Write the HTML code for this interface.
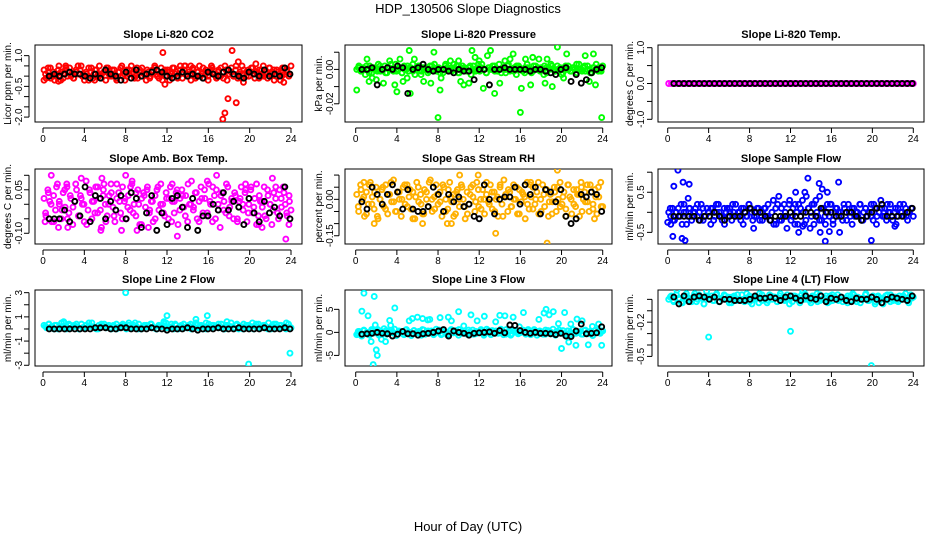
<!DOCTYPE html>
<html><head><meta charset="utf-8"><style>
html,body{margin:0;padding:0;background:#fff;}
svg{display:block;font-family:"Liberation Sans",Arial,sans-serif;}
</style></head><body>
<svg id="chart" width="936" height="540" viewBox="0 0 936 540">
<text x="468" y="13" text-anchor="middle" font-size="13">HDP_130506  Slope Diagnostics</text>
<text x="468" y="531" text-anchor="middle" font-size="13">Hour of Day (UTC)</text>
</svg>
<script>
// ---- data (values in scaled integer units; see each panel's unit) ----
const xTicks = [0,4,8,12,16,20,24];
const titles = ["Slope Li-820 CO2","Slope Li-820 Pressure","Slope Li-820 Temp.","Slope Amb. Box Temp.","Slope Gas Stream RH","Slope Sample Flow","Slope Line 2 Flow","Slope Line 3 Flow","Slope Line 4 (LT) Flow"];
const yTitles = ["Licor ppm per min.","kPa per min.","degrees C per min.","degrees C per min.","percent per min.","ml/min per min.","ml/min per min.","ml/min per min.","ml/min per min."];
const units = [0.1,0.001,1,0.01,0.01,0.1,0.1,0.1,0.01];
const yTickVals = [[1,0.5,0,-0.5,-1,-1.5,-2],[0.01,0,-0.01,-0.02],[1,0.5,0,-0.5,-1],[0.1,0.05,0,-0.05,-0.1],[0.1,0.05,0,-0.05,-0.1,-0.15],[1,0.5,0,-0.5],[3,2,1,0,-1,-2,-3],[5,0,-5],[0,-0.1,-0.2,-0.3,-0.4,-0.5]];
const yTickLabels = [["1.0","","","-0.5","","","-2.0"],["","0.00","","-0.02"],["1.0","","0.0","","-1.0"],["","0.05","","","-0.10"],["","","0.00","","","-0.15"],["","0.5","","-0.5"],["3","","1","","-1","","-3"],["5","0","-5"],["","","-0.2","","","-0.5"]];
const yLims = [[1.52,-2.24],[0.0142,-0.0306],[1.075,-1.075],[0.1217,-0.137],[0.125,-0.184],[1.08,-0.79],[3.22,-3.06],[9.2,-7.3],[0.082,-0.584]];
const band0 = "3 -1 2 4 0 -2 1 5 2 -1 3 0 4 1 -1 2 5 3 0 -2 1 4 2 -1 3 0 5 1 2 -2 4 0 3 1 -1 2 4 0 -2 3 1 5 2 0 -1 3 4 1 -2 2 0 3 5 1 -1 4 2 0 3 -2 1 4 2 0 5 -1 3 1 2 -2 4 0 2 5 1 -1 3 0 2 4 1 -1 3 0 2 5 -2 1 4 0 3 -1 2 5 1 0 3 2 4 -1 1 3 0 5 2 -1 4 1 3 0 2 -2 4 1 3 0 5";
const band1 = "0 2 -1 1 -3 0 2 -2 1 0 3 -1 0 2 -2 1 0 -1 3 0 1 -2 2 0 -1 1 3 -3 0 2 -1 0 1 -2 2 0 3 -1 1 0 -2 2 1 0 -1 3 0 -2 1 2 0 -1 1 -3 2 0 1 -1 3 0 -2 1 0 2 -1 0 3 -2 1 0 2 -1 0 1 -3 2 0 -1 1 3 0 -2 2 0 1 -1 0 2 -2 1 3 0 -1 2 0 -3 1 0 2 -1 1 0 -2 3 0 1 -1 2 0 -2 1 3 -1 0 2";
const band2 = "0 0 0 0 0 0 0 0 0 0 0 0 0 0 0 0 0 0 0 0 0 0 0 0 0 0 0 0 0 0 0 0 0 0 0 0 0 0 0 0 0 0 0 0 0 0 0 0 0 0 0 0 0 0 0 0 0 0 0 0 0 0 0 0 0 0 0 0 0 0 0 0 0 0 0 0 0 0 0 0 0 0 0 0 0 0 0 0 0 0";
const band3 = "2 -4 5 1 -6 3 -2 7 0 -5 4 -1 6 -3 2 -7 1 5 -4 3 0 -6 8 -2 4 -5 1 6 -3 2 -8 5 0 -4 3 7 -1 -6 2 4 -3 6 1 -5 3 -2 8 0 -4 5 -7 2 4 -1 6 -3 1 -6 3 5 -2 7 0 -4 2 -5 6 1 -3 4 -7 2 5 -1 3 -6 0 8 -2 4 -5 1 6 -3 2 -4 7 0 -6 3 5 -2 -8 4 1 -3 6 -1 2 -5 3 -5 1 6 -2 4 -6 0 5 -3 2 7 -4 1 -1 6 -5 3 0 -7 4 2 -3 5 -1 6 0 -4 3 -2";
const band4 = "2 -5 6 0 -7 3 -2 7 1 -4 5 -8 0 4 -3 6 -6 2 -1 8 -5 3 0 -7 5 -2 6 1 -4 3 -8 7 -1 2 -6 4 0 -3 8 -5 1 6 -2 3 -7 5 0 -4 7 -1 2 -6 4 -3 6 0 -8 3 -2 5 1 -5 7 -3 0 4 -6 2 -1 6 -4 3 0 -7 5 -2 8 1 -5 3 -3 6 0 -6 4 -1 2 -8 7 -4 1 5 -2 3 -6 0 6 -3 4 -7 2 -1 5 -5 0 7 -2 3 -4 6 1 -6 4 -3 2 -7 5 0 -1 6 -5 3 -2 4 -6 1 7 -3";
const band5 = "0 -1 1 -2 0 1 -1 -3 2 0 -1 1 -2 0 1 -1 0 2 -2 -1 1 0 -3 1 -1 0 2 -1 -2 1 0 -1 1 -2 0 2 -1 0 1 -3 0 -1 2 1 -2 0 -1 1 0 -2 1 -1 2 -2 0 -3 1 2 -2 1 -1 0 -1 2 -2 1 -3 0 2 -1 3 -3 4 1 -4 2 -3 3 -1 4 -2 1 -3 2 -1 2 -2 0 1 -1 0 -2 1 0 2 -1 -3 1 0 -1 2 -2 0 1 -1 0 2 -2 1 -1 0 3 -1 1 -2 0 2 -1 0 -3 1 2 0 -1 1 -2 0 1 -1";
const band6 = "3 1 4 2 0 3 1 5 2 0 4 1 3 2 0 4 1 3 5 2 1 0 3 4 2 1 3 0 2 4 1 3 2 0 5 1 3 2 4 0 1 3 2 4 1 0 3 2 5 1 2 4 0 3 1 2 4 1 3 0 2 5 1 3 2 0 4 1 3 2 1 4 0 3 2 5 1 3 0 2 4 1 3 2 0 4 1 2 3 1 5 0 2 4 1 3 2 0 4 1";
const band7 = "-5 2 -8 4 0 -3 6 -1 3 -6 1 8 -4 0 5 -2 -7 3 1 -5 6 0 -3 4 -1 2 -6 5 0 -2 3 -4 7 1 -5 2 0 -3 6 -1 4 -6 1 3 -2 5 0 -4 2 -1 6 -3 0 4 -5 1 3 -2 7 0 -4 2 -6 5 1 -3 0 4 -2 6 -5 1 3 -1 0 -4 5 2 -3 7 -6 1 0 4 -2 3 -5 6 -1 0 2 -4 5 -3 1 -7 4 0 -2 3";
const band8 = "0 3 -2 4 1 -3 2 5 -1 0 3 -2 4 1 -4 2 0 3 -1 5 -2 1 4 0 -3 2 3 -1 0 4 -2 1 3 -4 0 2 5 -1 1 -3 4 0 2 -2 3 1 -1 4 0 -2 3 2 -3 1 5 0 -1 3 2 -2 4 0 1 -3 3 -1 2 4 0 -2 1 3 -1 5 0 2 -3 1 4 -1 0 3 -2 2 1 -4 3 0 4 -1 2 -2 1 3 0 -1 4 2";
const bands = [band0,band1,band2,band3,band4,band5,band6,band7,band8];
// second dense layer of readings per panel
const bandB0 = "1 4 -1 2 0 3 -2 1 4 2 0 -1 3 1 5 0 2 -2 4 1 3 0 -1 2 4 1 0 3 -2 2 5 1 0 3 1 -1 4 2 0 1 3 -1 2 4 0 1 -2 3 2 0 4 1 -1 3 2 5 0 1 3 -1 2 0 4 1 -2 3 1 0 2 4 -1 3 1 2 0 5 1 -1 3 2 0 4 1 2 -1 3 0 1 4 2 -2 3 1 0 4 2 1";
const bandB1 = "1 -1 0 2 -2 1 0 -1 2 0 -2 1 3 0 -1 1 -2 0 2 1 -1 0 2 -3 1 0 -1 2 0 1 -2 0 3 -1 1 0 2 -2 0 1 -1 2 0 -1 3 1 0 -2 1 0 2 -1 0 1 -2 3 0 -1 2 1 0 -2 1 0 -1 2 0 1 -3 1 0 2 -1 0 1 -2 2 0 -1 1 3 0 -1 2 0 -2 1 0 1 -1";
const bandB2 = "";
const bandB3 = "-3 4 0 -6 6 1 -2 5 -5 3 -1 7 -4 2 0 -7 5 1 -3 6 -2 3 -6 0 4 -4 7 1 -5 2 -1 6 -3 4 0 -7 3 5 -2 1 -5 6 0 -3 4 2 -6 1 5 -2 3 -4 7 0 -1 4 -6 2 5 -3 1 6 -5 0 3 -2 7 -4 1 4 -6 2 0 5 -3 6 -1 -7 3 1 -4 5 0 -2 6 -5 2 4 -3 1";
const bandB4 = "-3 4 1 -6 6 -2 3 -7 0 5 -4 2 7 -1 -5 3 0 6 -3 4 -8 1 5 -2 -6 3 7 0 -4 2 -1 6 -5 4 1 -7 3 0 5 -3 -6 2 6 -1 4 -4 0 7 -2 3 -5 1 6 -7 2 4 -3 0 5 -6 3 1 -2 6 -4 0 7 -5 2 4 -1 -6 3 5 -3 1 -7 6 0 -2 4 2 -5 3 -1 6 -4 1 5 -3";
const bandB5 = "1 -2 0 -1 2 0 -3 1 -1 0 2 -2 1 -1 0 1 -2 2 0 -1 -3 1 0 2 -1 0 -2 1 -1 2 0 -1 1 -2 0 1 -1 -2 3 -3 4 -2 2 -4 3 -1 2 -3 1 0 -2 1 -1 2 0 -2 1 -1 0 2 -3 1 0 -1 2 -2 0 1 -1 0 2 -2 1 0 -1 2 -3 0 1 -1 2 0 -2 1 -1 0 2 -1 0 1";
const bandB6 = "2 4 1 3 0 2 5 1 3 2 4 0 1 3 2 5 1 0 3 4 2 1 3 0 2 4 1 3 2 5 0 1 3 2 4 1 0 2 3 5 1 2 4 0 3 1 2 4 1 3 2 0 5 1 3 2 4 1 0 3 2 1 4 2 0 3 1 5 2 4 1 3 0 2 4 1 3 2 5 1";
const bandB7 = "2 -3 5 0 -6 3 -1 6 -4 1 4 -2 0 7 -5 2 -3 5 1 -7 4 0 -2 6 -4 3 1 -5 0 5 -3 2 -6 4 -1 0 6 -2 3 -4 1 5 -3 0 2 -6 7 -1 4 -2 0 3 -5 6 1 -3 4 -1 0 5 -4 2 -2 6 -6 3 1 -4 4 0 -3 2 5 -1 -5 3 0 6 -2 1 -4 4 -1 2 -6 5 0 3";
const bandB8 = "2 -1 4 0 -3 3 1 -2 5 0 2 -4 3 1 -1 4 -2 0 3 2 -3 1 4 -1 0 5 -2 2 1 -3 4 0 -1 3 2 -2 5 1 0 -4 3 2 -1 4 0 1 -3 2 5 -1 0 3 -2 4 1 -1 2 0 -3 3 4 -2 1 0 5 -1 2 -4 3 1 0 4 -2 2 -1 3 0 5 -3 1";
const bandsB = [bandB0,bandB1,bandB2,bandB3,bandB4,bandB5,bandB6,bandB7,bandB8];
// outliers: [hour, value in panel units]
const out0 = [[11.6,11.5],[11.8,-4],[18.3,12.5],[17.4,-21],[17.6,-18],[17.9,-11],[18.7,-13],[18.9,7],[20.6,6],[13.7,5],[2.2,5],[3.4,5],[0.1,-2],[1.5,-2.5],[5.0,-2],[19.4,-3],[23.3,-3],[14.3,5],[16.3,5]];
const out1 = [[0.1,-12],[1.1,6],[1.6,-5],[1.3,-7],[2.0,-6],[2.7,-8],[3.3,5],[3.8,-9],[4.0,-13],[4.3,6],[4.6,-7],[5.0,-5],[5.2,11],[5.3,-14],[5.7,6],[6.6,-7],[7.3,-8],[7.6,10],[8.0,-28],[8.2,-12],[8.3,-5],[9.2,5],[10.0,5],[10.2,-7],[10.5,-9],[11.0,-8],[11.3,11],[11.6,7],[12.0,5],[12.4,-11],[12.8,8],[13.1,11],[13.5,-14],[14.0,-8],[14.5,5],[15.3,9],[15.0,6],[16.0,-25],[16.1,-11],[16.5,6],[17.0,-9],[17.2,7],[17.8,6],[18.4,-8],[18.6,6],[19.1,-10],[19.6,13],[20.2,-5],[20.5,9],[22.3,8],[22.7,-7],[23.1,9],[23.3,-9],[23.9,-28]];
const out2 = [];
const out3 = [[0.8,10],[3.7,9],[5.7,9],[5.9,7],[8.0,10],[8.6,7],[16.8,10],[22.2,9],[2.3,7],[0.2,-6],[1.5,-8],[2.4,-8],[5.6,-9],[7.6,-9],[9.1,-9],[13.0,-11],[23.5,-12],[10.2,-8],[20.9,-7],[21.2,-8],[23.8,-7],[15.9,8],[19.6,7],[12.5,7]];
const out4 = [[18.6,-18],[13.6,-14],[19.6,12],[10.1,10],[11.9,10],[1.8,-10],[6.5,-10],[8.9,-10],[9.3,-10],[0.8,7],[17.0,7],[21.9,7],[23.2,-8]];
const out5 = [[1.0,10.5],[0.6,6.5],[1.5,7.5],[2.1,7],[0.5,-6],[1.4,-6.5],[1.7,-7],[13.7,8.5],[14.8,7.2],[15.1,5.8],[16.7,7.5],[15.4,-7.2],[14.9,-5],[15.8,-4.8],[16.8,-5],[19.9,-7],[12.8,-5],[13.2,-3.5],[12.5,5],[15.6,5],[2.0,3.5],[8.4,-4],[22.2,-3.5],[0.0,-2.5],[0.3,-3],[13.4,5]];
const out6 = [[8.0,30],[12.0,11],[15.9,11],[19.9,-29],[23.9,-20],[14.8,8],[2.0,6],[17.8,6],[11.7,6]];
const out7 = [[0.2,-2],[0.6,46],[0.8,85],[1.2,36],[1.5,-20],[1.8,78],[1.9,16],[2.0,-38],[2.1,-50],[1.7,-70],[2.5,-15],[2.9,-20],[3.3,26],[3.4,15],[3.8,53],[5.2,25],[5.5,30],[6.0,33],[6.5,30],[7.0,27],[7.2,28],[8.2,32],[9.0,33],[9.3,25],[10.0,45],[10.5,14],[11.2,38],[11.8,25],[12.5,35],[13.6,23],[14.0,37],[14.5,36],[15.3,33],[15.9,12],[16.3,43],[17.8,28],[18.3,42],[18.5,50],[18.8,38],[19.2,45],[19.7,19],[20.0,-35],[20.3,43],[20.7,-21],[20.9,18],[21.4,-28],[21.5,29],[22.0,25],[22.6,-27],[23.0,13],[23.9,-28],[23.6,18]];
const out8 = [[4.0,-33],[12.0,-28],[19.9,-58],[0.9,8],[3.8,7],[13.2,7]];
const outliers = [out0,out1,out2,out3,out4,out5,out6,out7,out8];
const black0 = "0 1 0 1 2 1 1 0 -1 1 -1 3 1 0 -2 2 -1 3 0 1 2 3 2 0 -1 0 2 0 1 0 -1 2 1 0 2 3 1 0 -1 2 1 0 3 0 1 0 4 1";
const black1 = "0 0 1 -9 0 1 0 2 1 -14 0 1 3 0 -1 0 0 -1 -2 0 -1 -1 -6 0 0 -9 0 0 1 0 0 0 0 -1 0 0 -1 -2 -3 0 1 -7 -3 -8 -6 -2 0 1";
const black2 = "0 0 0 0 0 0 0 0 0 0 0 0 0 0 0 0 0 0 0 0 0 0 0 0 0 0 0 0 0 0 0 0 0 0 0 0 0 0 0 0 0 0 0 0 0 0 0 0";
const black3 = "-5 -5 -5 -2 -6 1 -4 6 -6 3 2 -5 1 -2 3 -5 4 2 -8 -3 3 -9 -3 -7 2 3 -1 -8 2 -9 -4 -4 0 -2 4 -2 1 -1 -7 2 -3 -6 1 -3 -1 -4 6 -5";
const black4 = "-1 -4 5 2 -2 2 6 3 -4 4 -4 -5 -5 -3 5 2 -5 2 -1 1 -3 -2 -7 -8 6 0 -6 0 1 1 5 -2 6 2 5 -6 4 3 -1 4 -7 -10 -8 2 1 3 2 -5";
const black5 = "-1 -1 -1 -1 -1 -2 -1 -1 0 -1 -2 -1 -1 -1 0 1 0 0 -1 -2 -1 -1 -1 0 -1 -1 0 0 -1 1 0 0 -1 -1 0 0 -1 -2 -1 0 1 2 -1 -1 -1 -1 0 1";
const black6 = "0 0 0 0 0 0 0 0 0 1 1 1 0 0 1 1 0 0 0 0 1 0 0 -1 0 0 0 1 0 -1 0 0 0 1 0 0 0 1 0 0 0 0 1 0 0 0 1 0";
const black7 = "-4 -3 -2 0 -2 -3 -8 -4 2 -3 -3 -6 -3 -2 0 3 6 -8 3 0 -2 -6 -2 -1 0 1 -2 4 -1 16 15 4 0 -2 0 -2 -2 -3 -5 -2 -8 -9 3 18 -3 -2 -1 12";
const black8 = "2 -4 3 -2 2 3 2 0 2 -2 0 0 -1 -1 -1 0 3 1 1 2 1 -1 2 3 1 -1 3 1 0 3 -2 1 0 2 -1 -2 1 0 0 2 0 -3 0 2 1 0 -1 3";
const blacks = [black0,black1,black2,black3,black4,black5,black6,black7,black8];

// ---- layout ----
const colors = ["#ff0000","#00ff00","#ff00ff","#ff00ff","#ffb000","#0000ff","#00ffff","#00ffff","#00ffff"];
const boxX = [[35,302],[345,612],[658,924]];
const axX = [[43,291],[355.7,602.7],[667.7,913.3]];
const boxY = [[45,122],[169,244],[290,366]];
const ylabX = [11,322,633];
const ytlX = [22,333,644];
const NS = "http://www.w3.org/2000/svg";
const svg = document.getElementById("chart");
function mk(tag, attrs, parent){const e=document.createElementNS(NS,tag);for(const k in attrs)e.setAttribute(k,attrs[k]);(parent||svg).appendChild(e);return e;}
function nums(s){const t=s.trim();return t?t.split(/\s+/).map(Number):[];}

for(let p=0;p<9;p++){
  const c=p%3,r=Math.floor(p/3);
  const [bx0,bx1]=boxX[c],[by0,by1]=boxY[r],[ax0,ax1]=axX[c];
  const [yt,yb]=yLims[p];
  const sx=h=>ax0+(ax1-ax0)*h/24;
  const sy=v=>by0+(by1-by0)*(yt-v)/(yt-yb);
  const g=mk("g",{});
  
  
  const cp=mk("clipPath",{id:"cp"+p},g);
  mk("rect",{x:bx0,y:by0,width:bx1-bx0,height:by1-by0},cp);
  const t=mk("text",{x:(bx0+bx1)/2,y:by0-7,"text-anchor":"middle","font-size":"11","font-weight":"bold"},g);
  t.textContent=titles[p];
  
  
  const yl=mk("text",{transform:`translate(${ylabX[c]},${(by0+by1)/2}) rotate(-90)`,"text-anchor":"middle","font-size":"10"},g);
  yl.textContent=yTitles[p];
  
  
  const xa=mk("g",{stroke:"#000","stroke-width":"1"},g);
  
  
  mk("line",{x1:sx(xTicks[0]),x2:sx(xTicks[xTicks.length-1]),y1:by1+6,y2:by1+6},xa);
  xTicks.forEach(h=>{
    mk("line",{x1:sx(h),x2:sx(h),y1:by1+6,y2:by1+11},xa);
    const tl=mk("text",{x:sx(h),y:by1+20,"text-anchor":"middle","font-size":"10",stroke:"none"},g);
    tl.textContent=h;
    
    
  });
  const ya=mk("g",{stroke:"#000","stroke-width":"1"},g);
  
  
  const tv=yTickVals[p];
  mk("line",{x1:bx0-6,x2:bx0-6,y1:sy(Math.max(...tv)),y2:sy(Math.min(...tv))},ya);
  tv.forEach((v,i)=>{
    mk("line",{x1:bx0-6,x2:bx0-11,y1:sy(v),y2:sy(v)},ya);
    if(yTickLabels[p][i]){
      const tl=mk("text",{transform:`translate(${ytlX[c]},${sy(v)}) rotate(-90)`,"text-anchor":"middle","font-size":"10"},g);
      tl.textContent=yTickLabels[p][i];
      
      
    }
  });
  mk("rect",{x:bx0,y:by0,width:bx1-bx0,height:by1-by0,fill:"none",stroke:"#000","stroke-width":"1"},g);
  const pts=mk("g",{"clip-path":`url(#cp${p})`,fill:"none","stroke-width":"1.9"},g);
  const band=nums(bands[p]);
  band.forEach((v,i)=>{
    const h=0.1+23.9*i/(band.length-1);
    const e=mk("circle",{cx:sx(h),cy:sy(v*units[p]),r:2.5,stroke:colors[p]},pts);
    
    
  });
  const bandB=nums(bandsB[p]);
  bandB.forEach((v,i)=>{
    const h=0.25+23.6*i/(bandB.length-1);
    const e=mk("circle",{cx:sx(h),cy:sy(v*units[p]),r:2.5,stroke:colors[p]},pts);
    
    
  });
  outliers[p].forEach(([h,v])=>{
    const e=mk("circle",{cx:sx(h),cy:sy(v*units[p]),r:2.5,stroke:colors[p]},pts);
    
    
  });
  const bl=nums(blacks[p]);
  bl.forEach((v,i)=>{
    const h=0.6+23.3*i/(bl.length-1);
    const e=mk("circle",{cx:sx(h),cy:sy(v*units[p]),r:2.5,stroke:"#000"},pts);
    
    
  });
}
</script>
</body></html>
